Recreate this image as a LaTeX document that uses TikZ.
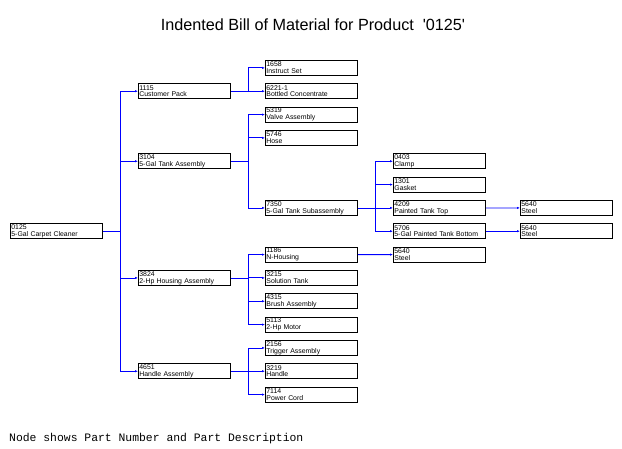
\documentclass[tikz,border=0pt]{standalone}
\usepackage{fontspec}
\setmainfont{Liberation Sans}
\newfontfamily\notefont{Liberation Mono}
\usetikzlibrary{arrows.meta,positioning}

\begin{document}
\begin{tikzpicture}[x=1pt,y=-1pt,
    part/.style={rectangle,draw,line width=0.8pt,anchor=north west,minimum width=92pt,minimum height=15pt,inner sep=1pt,text width=90pt,align=left,font=\fontsize{6.9}{6.8}\selectfont},
    link/.style={draw=blue,line width=0.8pt},
    >={Latex[length=3pt,width=2.4pt]}]
    \useasboundingbox (0,0) rectangle (622,449);
    \node[anchor=base,font=\fontsize{16.2}{16.2}\selectfont] (title) at (313,30.5) {Indented Bill of Material for Product\ \ \textquotesingle0125\textquotesingle};
    % parts, one column per level
    \node[part] (p0125) at (10,223.3) {0125\\5-Gal Carpet Cleaner};
    \node[part] (p1115) at (138,83.3) {1115\\Customer Pack};
    \node[part] (p3104) at (138,153.3) {3104\\5-Gal Tank Assembly};
    \node[part] (p3824) at (138,270) {3824\\2-Hp Housing Assembly};
    \node[part] (p4651) at (138,363.3) {4651\\Handle Assembly};
    \node[part] (p1658) at (265,60) {1658\\Instruct Set};
    \node[part] (p6221) at (265,83.3) {6221-1\\Bottled Concentrate};
    \node[part] (p5319) at (265,106.7) {5319\\Valve Assembly};
    \node[part] (p5746) at (265,130) {5746\\Hose};
    \node[part] (p7350) at (265,200) {7350\\5-Gal Tank Subassembly};
    \node[part] (p1186) at (265,246.7) {1186\\N-Housing};
    \node[part] (p3215) at (265,270) {3215\\Solution Tank};
    \node[part] (p4315) at (265,293.3) {4315\\Brush Assembly};
    \node[part] (p5113) at (265,316.7) {5113\\2-Hp Motor};
    \node[part] (p2156) at (265,340) {2156\\Trigger Assembly};
    \node[part] (p3219) at (265,363.3) {3219\\Handle};
    \node[part] (p7114) at (265,386.7) {7114\\Power Cord};
    \node[part] (p0403) at (393,153.3) {0403\\Clamp};
    \node[part] (p1301) at (393,176.7) {1301\\Gasket};
    \node[part] (p4209) at (393,200) {4209\\Painted Tank Top};
    \node[part] (p5706) at (393,223.3) {5706\\5-Gal Painted Tank Bottom};
    \node[part] (p5640a) at (393,246.7) {5640\\Steel};
    \node[part] (p5640b) at (520,200) {5640\\Steel};
    \node[part] (p5640c) at (520,223.3) {5640\\Steel};
    % vertical buses
    \coordinate (bus1) at (120,0);
    \coordinate (bus2) at (248,0);
    \coordinate (bus3) at (375,0);
    \foreach \c in {p1115,p3104,p3824,p4651}
      \draw[link,->] (p0125.east) -- (p0125.east -| bus1) |- (\c.west);
    \foreach \c in {p1658,p6221}
      \draw[link,->] (p1115.east) -- (p1115.east -| bus2) |- (\c.west);
    \foreach \c in {p5319,p5746,p7350}
      \draw[link,->] (p3104.east) -- (p3104.east -| bus2) |- (\c.west);
    \foreach \c in {p1186,p3215,p4315,p5113}
      \draw[link,->] (p3824.east) -- (p3824.east -| bus2) |- (\c.west);
    \foreach \c in {p2156,p3219,p7114}
      \draw[link,->] (p4651.east) -- (p4651.east -| bus2) |- (\c.west);
    \foreach \c in {p0403,p1301,p4209,p5706}
      \draw[link,->] (p7350.east) -- (p7350.east -| bus3) |- (\c.west);
    \draw[link,->] (p1186) -- (p5640a);
    \draw[link,->] (p4209) -- (p5640b);
    \draw[link,->] (p5706) -- (p5640c);
    \node[anchor=base west,inner sep=0pt,font=\notefont\fontsize{11.4}{11.4}\selectfont] (note) at (9,442) {Node shows Part Number and Part Description};
\end{tikzpicture}
\end{document}
